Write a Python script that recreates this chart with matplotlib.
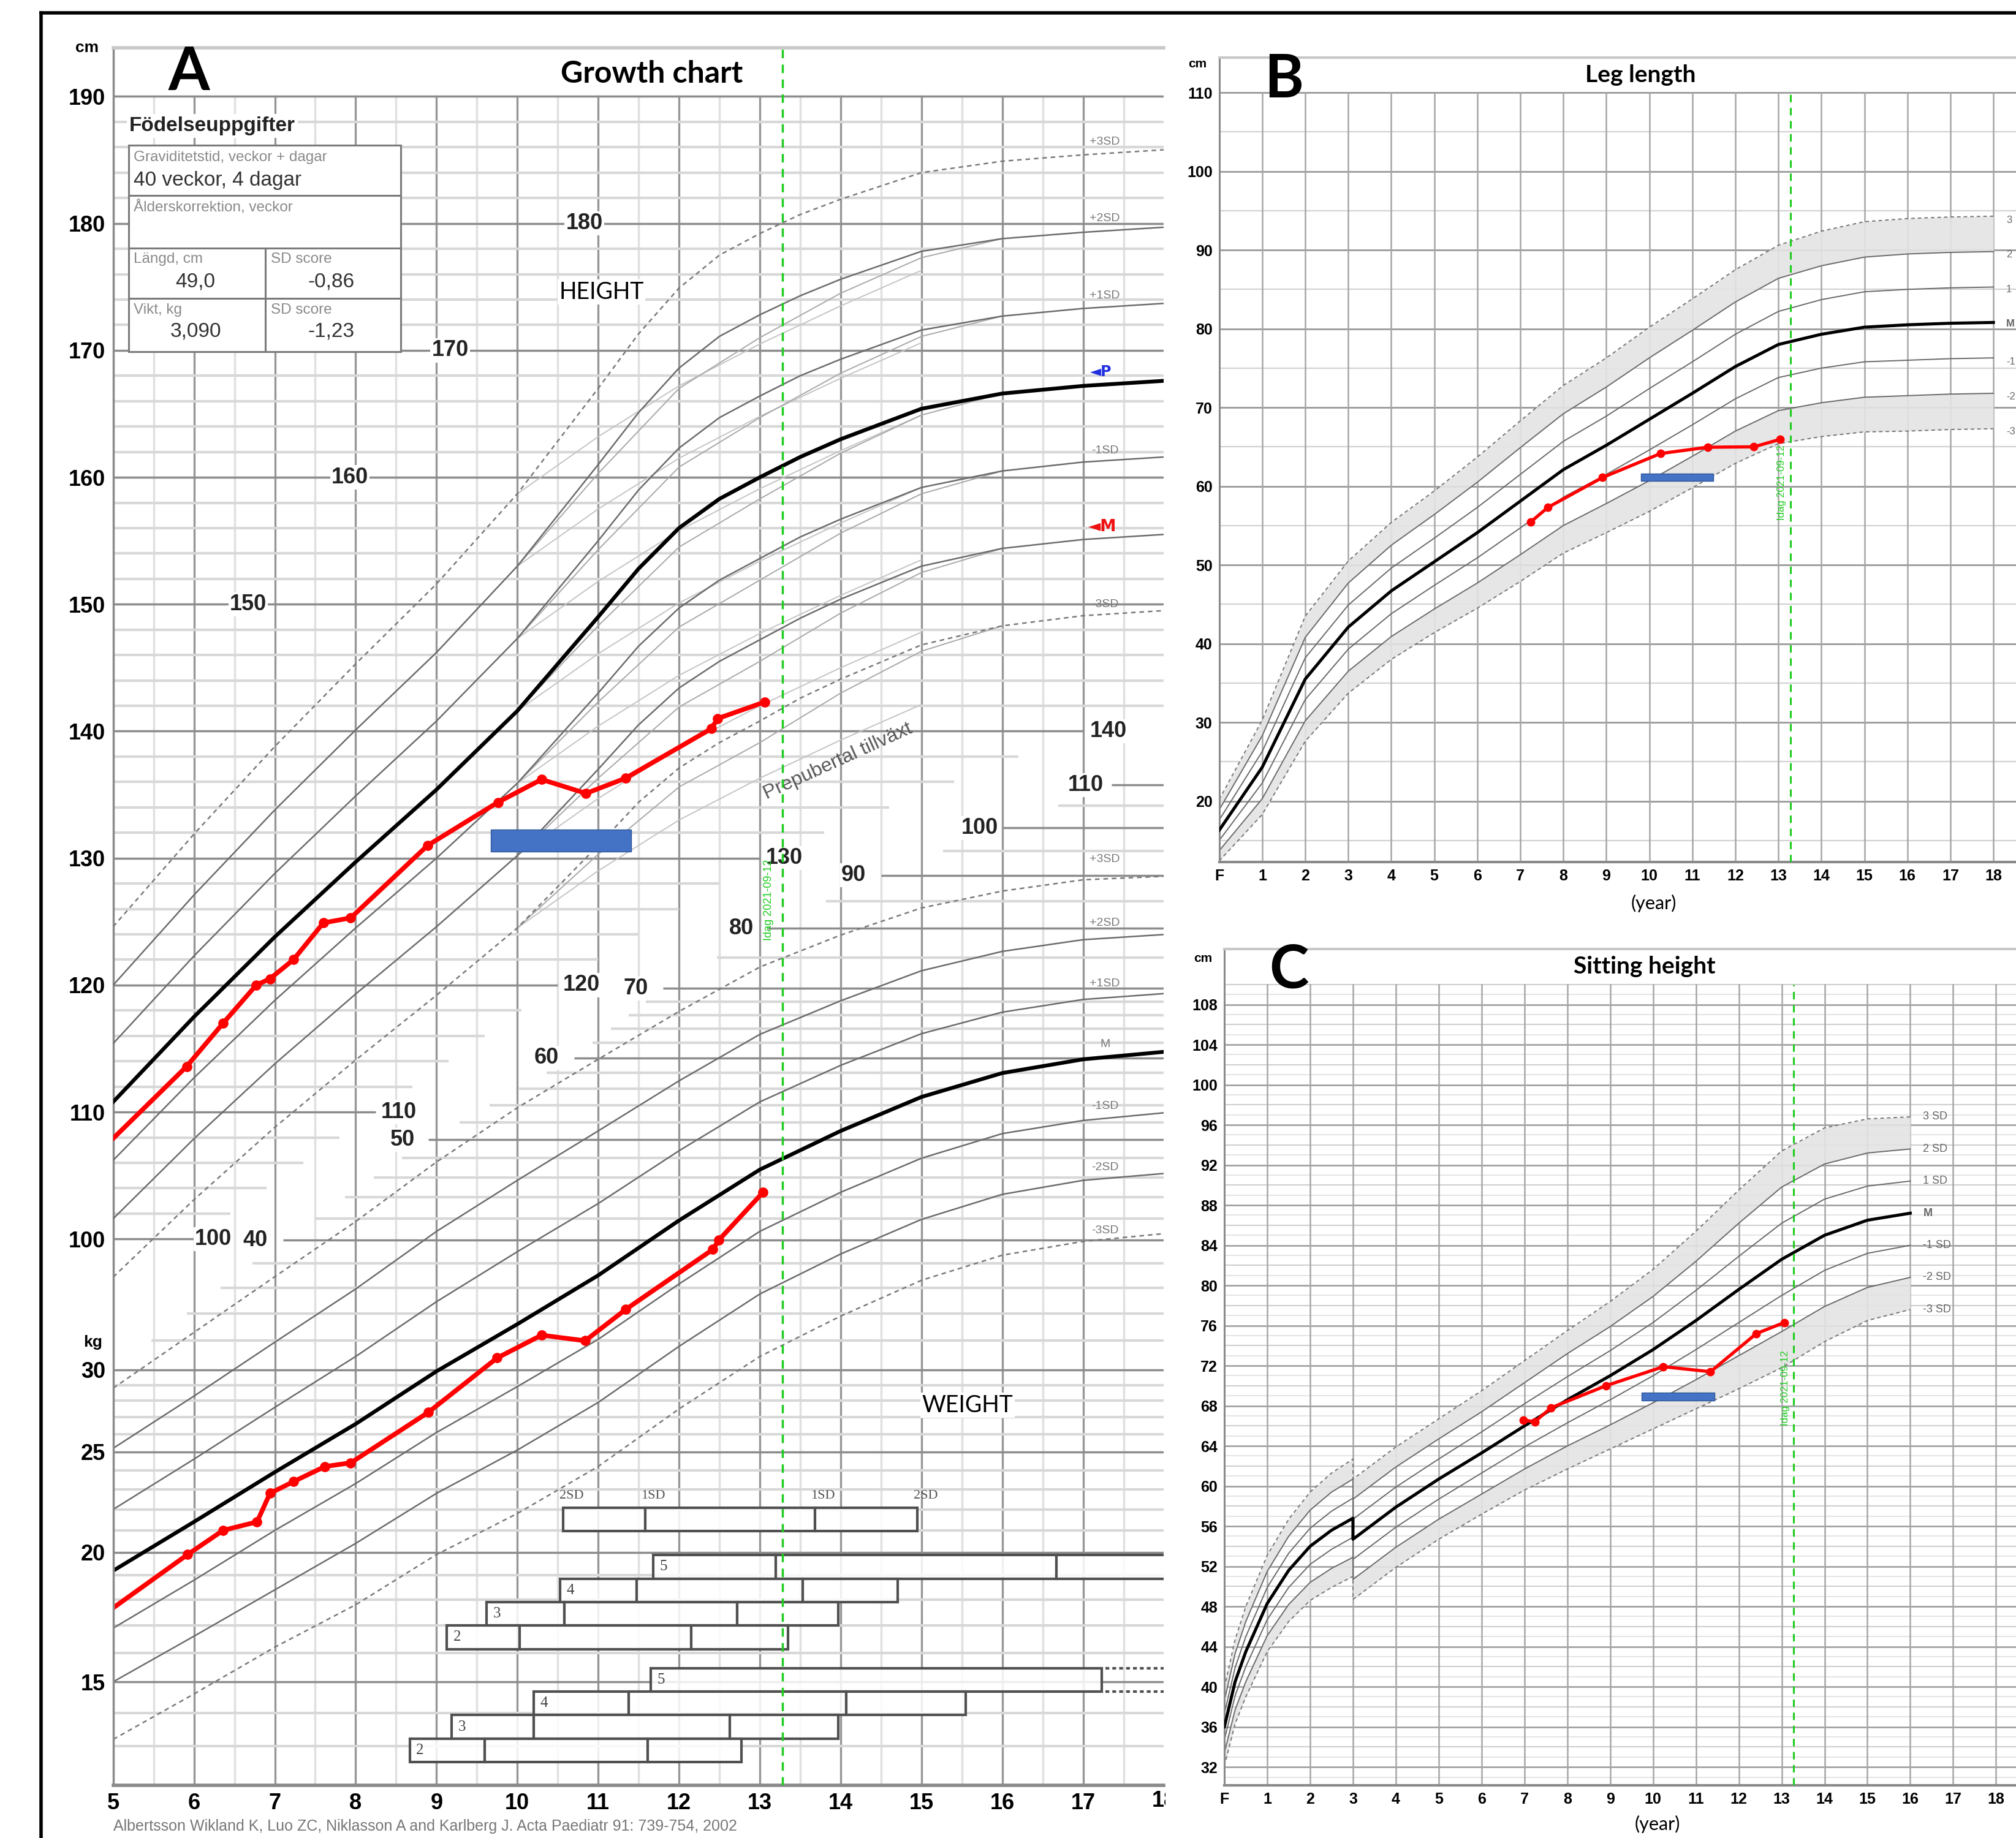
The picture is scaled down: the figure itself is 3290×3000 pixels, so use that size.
import numpy as np
import matplotlib.pyplot as plt
from matplotlib.patches import Rectangle
from matplotlib.lines import Line2D
from matplotlib.ticker import NullLocator
from matplotlib.transforms import Bbox, TransformedBbox

plt.rcParams['font.family'] = ['Liberation Sans', 'DejaVu Sans']

# ---------------- panel A : height reference (cm), girls 5-18 y ----------------
h_age = [5, 6, 7, 8, 9, 10, 11, 11.5, 12, 12.5, 13, 13.5, 14, 15, 16, 17, 18]
h_p3 = [124.6, 131.9, 138.8, 145.3, 151.6, 158.7, 167.0, 171.3, 174.9, 177.5, 179.2, 180.7, 181.9, 184.0, 184.9, 185.4, 185.8]
h_p2 = [120.0, 127.1, 133.8, 140.1, 146.2, 153.0, 161.0, 165.1, 168.6, 171.1, 172.8, 174.3, 175.6, 177.8, 178.8, 179.3, 179.7]
h_p1 = [115.4, 122.3, 128.8, 134.9, 140.8, 147.3, 155.0, 159.0, 162.3, 164.7, 166.4, 168.0, 169.3, 171.6, 172.7, 173.3, 173.7]
h_m = [110.8, 117.5, 123.8, 129.7, 135.4, 141.6, 149.0, 152.8, 156.0, 158.3, 160.0, 161.6, 163.0, 165.4, 166.6, 167.2, 167.6]
h_n1 = [106.2, 112.7, 118.8, 124.5, 130.0, 135.9, 143.0, 146.7, 149.7, 151.9, 153.6, 155.3, 156.7, 159.2, 160.5, 161.2, 161.6]
h_n2 = [101.6, 107.9, 113.8, 119.3, 124.6, 130.2, 137.0, 140.5, 143.4, 145.5, 147.2, 148.9, 150.4, 153.0, 154.4, 155.1, 155.5]
h_n3 = [97.0, 103.1, 108.8, 114.1, 119.2, 124.5, 131.0, 134.4, 137.1, 139.1, 140.8, 142.6, 144.1, 146.8, 148.3, 149.1, 149.5]

# late-maturing companions of the pubertal curves
late_age = [10, 11, 12, 13, 14, 15, 16]
late_p2 = [153.0, 160.3, 167.0, 171.0, 174.5, 177.3, 178.8]
late_p1 = [147.3, 154.3, 160.8, 164.7, 168.2, 171.1, 172.7]
late_m = [141.6, 148.3, 154.5, 158.3, 161.9, 164.9, 166.6]
late_n1 = [135.9, 142.3, 148.2, 151.9, 155.6, 158.7, 160.5]
late_n2 = [130.2, 136.3, 141.9, 145.5, 149.3, 152.5, 154.4]
late_n3 = [124.5, 130.3, 135.6, 139.1, 143.0, 146.3, 148.3]

# prepubertal growth lines
pre_age = [10, 11, 12, 13, 14, 15]
pre_p3 = [158.7, 163.2, 167.2, 170.5, 173.5, 176.3]
pre_p2 = [153.0, 157.5, 161.5, 164.8, 167.8, 170.6]
pre_p1 = [147.3, 151.8, 155.8, 159.1, 162.1, 164.9]
pre_m = [141.6, 146.1, 150.1, 153.4, 156.4, 159.2]
pre_n1 = [135.9, 140.4, 144.4, 147.7, 150.7, 153.5]
pre_n2 = [130.2, 134.7, 138.7, 142.0, 145.0, 147.8]
pre_n3 = [124.5, 129.0, 133.0, 136.3, 139.3, 142.1]

# weight reference (kg)
w_age = [5, 6, 7, 8, 9, 10, 11, 12, 13, 14, 15, 16, 17, 18]
w_p3 = [28.8, 32.6, 36.9, 41.7, 47.6, 53.7, 59.8, 66.5, 73.4, 78.8, 83.7, 86.9, 89.1, 89.8]
w_p2 = [25.2, 28.3, 31.9, 35.9, 40.8, 45.7, 51.0, 57.0, 63.2, 68.1, 72.8, 76.0, 78.0, 78.9]
w_p1 = [22.0, 24.6, 27.6, 30.9, 34.9, 39.0, 43.4, 48.8, 54.4, 59.0, 63.3, 66.4, 68.3, 69.2]
w_m = [19.2, 21.4, 23.9, 26.6, 29.9, 33.2, 37.0, 41.8, 46.8, 51.0, 55.0, 58.0, 59.8, 60.8]
w_n1 = [16.9, 18.8, 21.0, 23.3, 26.1, 28.9, 32.1, 36.3, 40.8, 44.5, 48.0, 50.7, 52.2, 53.1]
w_n2 = [15.0, 16.6, 18.4, 20.4, 22.8, 25.1, 27.9, 31.6, 35.5, 38.8, 41.9, 44.3, 45.7, 46.4]
w_n3 = [13.2, 14.6, 16.2, 17.8, 19.9, 21.8, 24.2, 27.5, 30.9, 33.8, 36.6, 38.7, 39.9, 40.6]

# patient
pat_h_age = [4.9, 5.91, 6.36, 6.77, 6.94, 7.23, 7.6, 7.94, 8.89, 9.76, 10.3, 10.85, 11.34, 12.4, 12.48, 13.06]
pat_h = [107.3, 113.6, 117.0, 120.0, 120.5, 122.0, 124.9, 125.3, 131.0, 134.4, 136.2, 135.1, 136.3, 140.2, 141.0, 142.3]
pat_w_age = [4.9, 5.92, 6.36, 6.78, 6.94, 7.23, 7.62, 7.94, 8.9, 9.75, 10.3, 10.84, 11.34, 12.42, 12.49, 13.04]
pat_w = [17.45, 19.9, 21.0, 21.4, 22.8, 23.4, 24.2, 24.4, 27.3, 30.8, 32.4, 32.0, 34.3, 39.2, 40.0, 44.5]
today_age = 13.28
bone_age_A = [9.67, 11.41, 130.5, 132.25]   # age from, age to, cm low, cm high

# puberty stage bars (ages of -2SD, -1SD, +1SD, +2SD)
pub_ref = [10.57, 11.58, 13.68, 14.95]
breast_5 = [11.68, 13.20, 16.67]
breast_4 = [10.53, 11.48, 13.53, 14.71]
breast_3 = [9.62, 10.58, 12.72, 13.97]
breast_2 = [9.13, 10.03, 12.15, 13.35]
pubic_5 = [11.65, 17.23]
pubic_4 = [10.20, 11.38, 14.07, 15.55]
pubic_3 = [9.19, 10.20, 12.63, 13.97]
pubic_2 = [8.67, 9.60, 11.61, 12.77]

# ---------------- panel B : leg length ----------------
b_age = list(range(0, 19))
leg_p3 = [20.2, 30.3, 43.5, 50.5, 55.4, 59.4, 63.7, 68.3, 72.8, 76.3, 80.2, 83.8, 87.5, 90.6, 92.4, 93.6, 94.0, 94.2, 94.3]
leg_p2 = [18.9, 28.3, 40.8, 47.7, 52.5, 56.4, 60.5, 64.9, 69.2, 72.6, 76.3, 79.8, 83.4, 86.4, 88.0, 89.1, 89.5, 89.7, 89.8]
leg_p1 = [17.6, 26.3, 38.2, 44.9, 49.6, 53.4, 57.3, 61.5, 65.7, 68.9, 72.4, 75.8, 79.3, 82.2, 83.7, 84.7, 85.0, 85.2, 85.3]
leg_m = [16.3, 24.3, 35.5, 42.1, 46.7, 50.4, 54.1, 58.1, 62.1, 65.2, 68.5, 71.8, 75.2, 78.0, 79.3, 80.2, 80.5, 80.7, 80.8]
leg_n1 = [15.0, 22.3, 32.9, 39.3, 43.8, 47.4, 50.9, 54.7, 58.6, 61.5, 64.6, 67.8, 71.1, 73.8, 75.0, 75.8, 76.0, 76.2, 76.3]
leg_n2 = [13.7, 20.3, 30.2, 36.5, 40.9, 44.4, 47.7, 51.3, 55.0, 57.8, 60.7, 63.8, 67.0, 69.6, 70.6, 71.3, 71.5, 71.7, 71.8]
leg_n3 = [12.4, 18.3, 27.6, 33.7, 38.0, 41.4, 44.5, 47.9, 51.5, 54.1, 56.8, 59.8, 62.9, 65.4, 66.3, 66.9, 67.0, 67.2, 67.3]
pat_leg_age = [7.24, 7.64, 8.91, 10.26, 11.36, 12.43, 13.04]
pat_leg = [55.45, 57.3, 61.1, 64.15, 64.95, 65.0, 65.95]
bone_age_B = [9.8, 11.48, 60.7, 61.6]

# ---------------- panel C : sitting height ----------------
c_age = [0, 0.25, 0.5, 1, 1.5, 2, 2.5, 3, 3, 4, 5, 6, 7, 8, 9, 10, 11, 12, 13, 14, 15, 16]
sit_p3 = [39.9, 44.7, 48.0, 53.1, 56.7, 59.4, 61.3, 62.7, 60.7, 63.9, 66.7, 69.5, 72.5, 75.5, 78.4, 81.6, 85.4, 89.5, 93.4, 95.7, 96.6, 96.8]
sit_p2 = [38.6, 43.3, 46.5, 51.5, 55.0, 57.6, 59.4, 60.7, 58.7, 61.9, 64.7, 67.4, 70.3, 73.2, 75.9, 78.9, 82.4, 86.2, 89.8, 92.1, 93.2, 93.6]
sit_p1 = [37.3, 41.9, 45.0, 49.9, 53.3, 55.8, 57.5, 58.8, 56.7, 59.9, 62.7, 65.4, 68.2, 70.9, 73.5, 76.3, 79.5, 82.9, 86.2, 88.6, 89.9, 90.4]
sit_m = [36.0, 40.5, 43.5, 48.3, 51.6, 54.0, 55.6, 56.8, 54.7, 57.9, 60.7, 63.3, 66.0, 68.6, 71.0, 73.6, 76.5, 79.6, 82.6, 85.0, 86.5, 87.2]
sit_n1 = [34.7, 39.1, 42.0, 46.7, 49.9, 52.2, 53.7, 54.9, 52.7, 55.9, 58.7, 61.3, 63.9, 66.3, 68.6, 71.0, 73.6, 76.3, 79.0, 81.5, 83.2, 84.0]
sit_n2 = [33.4, 37.7, 40.5, 45.1, 48.2, 50.4, 51.8, 52.9, 50.7, 53.9, 56.7, 59.2, 61.7, 64.0, 66.1, 68.3, 70.6, 73.0, 75.4, 77.9, 79.8, 80.8]
sit_n3 = [32.1, 36.3, 39.0, 43.5, 46.5, 48.6, 49.9, 51.0, 48.7, 51.9, 54.7, 57.2, 59.6, 61.7, 63.7, 65.7, 67.7, 69.7, 71.8, 74.4, 76.5, 77.6]
pat_sit_age = [6.97, 7.24, 7.62, 8.9, 10.24, 11.34, 12.41, 13.06]
pat_sit = [66.6, 66.4, 67.8, 70.0, 71.9, 71.4, 75.2, 76.3]
bone_age_C = [9.74, 11.43, 68.5, 69.3]

# ---------------- styles ----------------
GMAJ = '#8c8c8c'
GMIN = '#d8d8d8'
CURVE = '#6c6c6c'
RED = '#ff0000'
GREEN = '#1fcc1f'
BLUE = '#4472c4'
TFONT = ['Lato', 'DejaVu Sans']
DASH = (0, (3, 2.5))

fig = plt.figure(figsize=(32.91, 30), dpi=100)
fig.patch.set_facecolor('white')

# ======================= panel A =======================
axA = fig.add_axes([0.05612, 0.02869, 0.52105, 0.94542])
axW = axA.twinx()
axA.set_zorder(axW.get_zorder() + 1)
axA.patch.set_visible(False)
axW.set_yscale('log')
axA.set_xlim(5, 18)
axA.set_ylim(56.97, 193.85)
axW.set_ylim(11.92, 566)

top_frac = (190 - 56.97) / (193.85 - 56.97)
for yr in np.arange(5.5, 18, 0.5):
    if yr % 1 == 0:
        axW.axvline(yr, 0, top_frac, color='#969696', lw=2.4, zorder=1)
    else:
        axW.axvline(yr, 0, top_frac, color='#e0e0e0', lw=2.5, zorder=0.5)

for h in range(100, 191, 2):
    x_end = np.interp(h, [100, 110, 120, 130, 140, 141], [6.0, 8.25, 10.5, 13.0, 17.0, 18.0])
    major = h % 10 == 0
    axA.hlines(h, 5, x_end, color=GMAJ if major else GMIN, lw=2.5 if major else 3, zorder=1)

w_lines = list(range(13, 30)) + list(range(30, 70, 2)) + list(range(70, 111, 5))
w_major = [15, 20, 25, 30, 40, 50, 60, 70, 80, 90, 100, 110]
for w in w_lines:
    x0 = np.interp(np.log(w), np.log([30, 40, 50, 60, 70, 80, 90, 100, 110]),
                   [5.0, 7.1, 8.9, 10.7, 11.8, 13.1, 14.5, 16.0, 17.35])
    major = w in w_major
    axW.hlines(w, x0, 18, color=GMAJ if major else GMIN, lw=2.5 if major else 3, zorder=1)

# height curves
for vals in (h_p2, h_p1, h_n1, h_n2):
    axA.plot(h_age, vals, color=CURVE, lw=1.8, zorder=3)
for vals in (h_p3, h_n3):
    axA.plot(h_age, vals, color='#7a7a7a', lw=1.8, ls=DASH, zorder=3)
for vals in (late_p2, late_p1, late_m, late_n1, late_n2, late_n3):
    axA.plot(late_age, vals, color='#a8a8a8', lw=1.4, zorder=2.5)
for vals in (pre_p3, pre_p2, pre_p1, pre_m, pre_n1, pre_n2, pre_n3):
    axA.plot(pre_age, vals, color='#c4c4c4', lw=1.4, zorder=2.4)
axA.plot(h_age, h_m, color='black', lw=4.5, zorder=4)

# weight curves
for vals in (w_p2, w_p1, w_n1, w_n2):
    axW.plot(w_age, vals, color=CURVE, lw=1.8, zorder=3)
for vals in (w_p3, w_n3):
    axW.plot(w_age, vals, color='#7a7a7a', lw=1.8, ls=DASH, zorder=3)
axW.plot(w_age, w_m, color='black', lw=4.5, zorder=4)
axW.plot(pat_w_age, pat_w, color=RED, lw=5.5, marker='o', ms=11, zorder=6)

# patient height, bone age, today
axA.plot(pat_h_age, pat_h, color=RED, lw=5.5, marker='o', ms=11, zorder=8)
axA.add_patch(Rectangle((bone_age_A[0], bone_age_A[2]), bone_age_A[1] - bone_age_A[0],
                        bone_age_A[3] - bone_age_A[2], fc=BLUE, ec='#2f5597', lw=1, zorder=7))
axA.axvline(today_age, color=GREEN, lw=2.5, ls=(0, (4, 3)), zorder=9)
axA.text(today_age - 0.17, 126.7, 'Idag 2021-09-12', rotation=90, color=GREEN, fontsize=13,
         ha='center', va='center', zorder=9)

# inner scale labels
lab_kw = dict(fontsize=26, fontweight='bold', ha='center', va='center', color='#222222',
              bbox=dict(fc='white', ec='none', pad=1.5), zorder=5)
for h, x in [(180, 10.83), (170, 9.17), (160, 7.93), (150, 6.67), (140, 17.31),
             (130, 13.3), (120, 10.79), (110, 8.53), (100, 6.24)]:
    axA.text(x, h, str(h), **lab_kw)
for w, x in [(40, 6.76), (50, 8.58), (60, 10.36), (70, 11.47), (80, 12.77),
             (90, 14.16), (100, 15.72), (110, 17.03)]:
    axW.text(x, w, str(w), **lab_kw)

sd_kw = dict(fontsize=14, color='#7a7a7a', ha='center', va='center', zorder=5)
for y, s in [(186.45, '+3SD'), (180.4, '+2SD'), (174.3, '+1SD'), (162.1, '-1SD'), (150.0, '-3SD')]:
    axA.text(17.27, y, s, **sd_kw)
axA.text(17.22, 168.3, '\u25c4P', fontsize=17, color='#2030e0', fontweight='bold', ha='center',
         va='center', family=['DejaVu Sans'], zorder=6)
axA.text(17.24, 156.1, '\u25c4M', fontsize=19, color='#ee1111', fontweight='bold', ha='center',
         va='center', family=['DejaVu Sans'], zorder=6)
for w, s in [(93.2, '+3SD'), (81.0, '+2SD'), (70.7, '+1SD'), (61.8, 'M'), (53.9, '-1SD'),
             (47.0, '-2SD'), (40.9, '-3SD')]:
    axW.text(17.27, w, s, **sd_kw)

axA.text(13.97, 137.6, 'Prepubertal tillväxt', rotation=24.5, fontsize=23, color='#555555',
         ha='center', va='center', zorder=5)
axA.text(11.04, 174.6, 'HEIGHT', fontsize=27, family=TFONT, ha='center', va='center',
         bbox=dict(fc='white', ec='none', pad=2), zorder=5)
axA.text(15.57, 86.9, 'WEIGHT', fontsize=27, family=TFONT, ha='center', va='center',
         bbox=dict(fc='white', ec='none', pad=2), zorder=5)
axA.text(11.66, 191.8, 'Growth chart', fontsize=36, fontweight='bold', family=TFONT,
         ha='center', va='center', zorder=5)
axA.text(5.94, 191.9, 'A', fontsize=70, fontweight='bold', family=TFONT,
         ha='center', va='center', zorder=5)

# birth data box
axA.text(5.2, 187.7, 'Födelseuppgifter', fontsize=24, fontweight='bold', color='#222222',
         ha='left', va='center', bbox=dict(fc='white', ec='none', pad=3), zorder=10)
axA.add_patch(Rectangle((5.19, 169.9), 3.37, 16.25, fc='white', ec='#7a7a7a', lw=2.2, zorder=10))
for yy in (182.2, 178.04, 174.1):
    axA.hlines(yy, 5.19, 8.56, color='#7a7a7a', lw=2.2, zorder=10.5)
axA.vlines(6.88, 169.9, 178.04, color='#7a7a7a', lw=2.2, zorder=10.5)
small = dict(fontsize=17.5, color='#8a8a8a', ha='left', va='center', zorder=11)
big = dict(fontsize=24, color='#333333', va='center', zorder=11)
axA.text(5.25, 185.2, 'Graviditetstid, veckor + dagar', **small)
axA.text(5.25, 183.4, '40 veckor, 4 dagar', ha='left', **big)
axA.text(5.25, 181.3, 'Ålderskorrektion, veckor', **small)
axA.text(5.25, 177.2, 'Längd, cm', **small)
axA.text(6.95, 177.2, 'SD score', **small)
axA.text(5.25, 173.2, 'Vikt, kg', **small)
axA.text(6.95, 173.2, 'SD score', **small)
axA.text(6.02, 175.4, '49,0', ha='center', **big)
axA.text(7.7, 175.4, '-0,86', ha='center', **big)
axA.text(6.02, 171.5, '3,090', ha='center', **big)
axA.text(7.7, 171.5, '-1,23', ha='center', **big)

# puberty bars
BAR_H = 1.85
def pub_bar(edges, top, label, open_right=False, dotted=False):
    e = list(edges) + ([18.6] if open_right else [])
    for a, b in zip(e[:-1], e[1:]):
        axA.add_patch(Rectangle((a, top - BAR_H), b - a, BAR_H, fc=(1, 1, 1, 0.85),
                                ec='#505050', lw=3, zorder=5))
    if dotted:
        axA.hlines([top, top - BAR_H], e[-1] + 0.05, 18, colors='#505050', lw=3,
                   linestyles=[(0, (1.5, 1.2))], zorder=5)
    if label:
        axA.text(e[0] + 0.08, top - BAR_H / 2, label, fontsize=18, family=['Liberation Serif'],
                 color='#444444', ha='left', va='center', zorder=6)

pub_bar(pub_ref, 78.85, '')
for x, s in zip(pub_ref, ['2SD', '1SD', '1SD', '2SD']):
    axA.text(x + 0.1, 79.75, s, fontsize=16, family=['Liberation Serif'], color='#555555',
             ha='center', va='center', zorder=6)
for i, (edges, lab) in enumerate([(breast_5, '5'), (breast_4, '4'), (breast_3, '3'), (breast_2, '2')]):
    pub_bar(edges, 75.1 - i * BAR_H, lab, open_right=(i == 0))
for i, (edges, lab) in enumerate([(pubic_5, '5'), (pubic_4, '4'), (pubic_3, '3'), (pubic_2, '2')]):
    pub_bar(edges, 66.2 - i * BAR_H, lab, dotted=(i == 0))

# axes decoration A
for sp in axW.spines.values():
    sp.set_visible(False)
axA.spines['right'].set_visible(False)
axA.spines['top'].set_color('#c8c8c8')
axA.spines['top'].set_linewidth(4)
axA.spines['left'].set_color('#8a8a8a')
axA.spines['left'].set_linewidth(2.5)
axA.spines['bottom'].set_color('#8a8a8a')
axA.spines['bottom'].set_linewidth(4)
axA.set_yticks(range(100, 191, 10))
axA.set_yticklabels([str(v) for v in range(100, 191, 10)], fontweight='bold')
axA.set_xticks(range(5, 18))
axA.set_xticklabels([str(v) for v in range(5, 18)], fontweight='bold')
axA.tick_params(axis='both', length=0, labelsize=26, pad=9)
axW.set_yticks([15, 20, 25, 30])
axW.set_yticklabels(['15', '20', '25', '30'], fontweight='bold')
axW.yaxis.set_minor_locator(NullLocator())
axW.tick_params(axis='y', which='both', length=0, left=False, right=False,
                labelleft=True, labelright=False, labelsize=26, pad=9)
axA.text(4.68, 193.85, 'cm', fontsize=19, fontweight='bold', ha='center', va='center', clip_on=False)
axW.text(4.75, 31.9, 'kg', fontsize=19, fontweight='bold', ha='center', va='center', clip_on=False)
t18 = fig.text(0.57717, 1 - 1400 / 1429, '18', fontsize=26, fontweight='bold', ha='center',
               va='center', clip_on=True)
t18.set_clip_box(TransformedBbox(Bbox.from_extents(0, 0, 906 / 1568, 1), fig.transFigure))

fig.text(88 / 1568, 0.0062, 'Albertsson Wikland K, Luo ZC, Niklasson A and Karlberg J. '
         'Acta Paediatr 91: 739-754, 2002', fontsize=18, color='#777777', ha='left', va='center')


# ======================= panels B and C =======================
def side_panel(rect, ylim, hlines_spec, ytick_vals, ages, curves, pat_age, pat, bone, title,
               letter, title_y, letter_y, cm_y, year_y, sd_labels, sd_x, sd_font, idag_y, tick_pad):
    ax = fig.add_axes(rect)
    ax.set_xlim(0, 19)
    ax.set_ylim(*ylim)
    top_f = (110 - ylim[0]) / (ylim[1] - ylim[0])
    for yv, col, lw in hlines_spec:
        ax.axhline(yv, color=col, lw=lw, zorder=0.5)
    for yr in range(1, 19):
        ax.axvline(yr, 0, top_f, color='#a6a6a6', lw=1.8, zorder=0.6)
    p3, p2, p1, m, n1, n2, n3 = curves
    ax.fill_between(ages, p2, p3, color='#e4e4e4', alpha=0.9, lw=0, zorder=1)
    ax.fill_between(ages, n3, n2, color='#e4e4e4', alpha=0.9, lw=0, zorder=1)
    for vals in (p2, p1, n1, n2):
        ax.plot(ages, vals, color='#6a6a6a', lw=1.4, zorder=2)
    for vals in (p3, n3):
        ax.plot(ages, vals, color='#777777', lw=1.4, ls=DASH, zorder=2)
    ax.plot(ages, m, color='black', lw=3.6, zorder=3)
    ax.add_patch(Rectangle((bone[0], bone[2]), bone[1] - bone[0], bone[3] - bone[2],
                           fc=BLUE, ec='#2f5597', lw=1, zorder=4))
    ax.plot(pat_age, pat, color=RED, lw=3.8, marker='o', ms=9, zorder=6)
    ax.axvline(today_age, 0, top_f, color=GREEN, lw=2.2, ls=(0, (4, 3)), zorder=5)
    ax.text(today_age - 0.2, idag_y, 'Idag 2021-09-12', rotation=90, color=GREEN, fontsize=12,
            ha='center', va='center', zorder=5)
    for y, s in sd_labels:
        ax.text(sd_x, y, s, fontsize=sd_font, color='#666666', ha='left', va='center',
                fontweight='bold' if s == 'M' else 'normal', zorder=5)
    ax.text(9.8, title_y, title, fontsize=28, fontweight='bold', family=TFONT,
            ha='center', va='center', zorder=5)
    ax.text(1.5, letter_y, letter, fontsize=70, fontweight='bold', family=TFONT,
            ha='center', va='center', zorder=5)
    ax.text(-0.5, cm_y, 'cm', fontsize=15, fontweight='bold', ha='center', va='center', clip_on=False)
    ax.text(10.1, year_y, '(year)', fontsize=22, family=TFONT, ha='center', va='center', clip_on=False)
    ax.spines['right'].set_visible(False)
    ax.spines['top'].set_color('#c8c8c8')
    ax.spines['top'].set_linewidth(3)
    ax.spines['left'].set_color('#8a8a8a')
    ax.spines['left'].set_linewidth(2.2)
    ax.spines['bottom'].set_color('#8a8a8a')
    ax.spines['bottom'].set_linewidth(3)
    ax.set_xticks(range(0, 19))
    ax.set_xticklabels(['F'] + [str(v) for v in range(1, 19)], fontweight='bold')
    ax.set_yticks(ytick_vals)
    ax.set_yticklabels([str(v) for v in ytick_vals], fontweight='bold')
    ax.tick_params(axis='both', length=0, labelsize=18, pad=tick_pad)
    return ax


hB = [(v, '#9a9a9a' if v % 10 == 0 else '#d2d2d2', 2.0 if v % 10 == 0 else 1.6)
      for v in range(15, 111, 5)]
side_panel([0.6046, 0.53114, 0.40522, 0.43737], (12.29, 114.41), hB, list(range(20, 111, 10)),
           b_age, (leg_p3, leg_p2, leg_p1, leg_m, leg_n1, leg_n2, leg_n3),
           pat_leg_age, pat_leg, bone_age_B, 'Leg length', 'B', 112.2, 111.6, 113.6, 7.0,
           [(93.8, '3'), (89.4, '2'), (85.0, '1'), (80.6, 'M'), (75.8, '-1'), (71.4, '-2'), (66.9, '-3')],
           18.3, 12, 60.5, 8)

hC = []
for v in range(31, 111):
    if v % 4 == 0:
        hC.append((v, '#9a9a9a', 1.8))
    elif v % 2 == 0:
        hC.append((v, '#cfcfcf', 1.5))
    else:
        hC.append((v, '#e2e2e2', 1.3))
side_panel([0.60714, 0.02869, 0.40389, 0.45487], (30.18, 113.51), hC, list(range(32, 109, 4)),
           c_age, (sit_p3, sit_p2, sit_p1, sit_m, sit_n1, sit_n2, sit_n3),
           pat_sit_age, pat_sit, bone_age_C, 'Sitting height', 'C', 111.8, 111.4, 112.6, 26.3,
           [(96.85, '3 SD'), (93.6, '2 SD'), (90.4, '1 SD'), (87.2, 'M'), (84.0, '-1 SD'),
            (80.8, '-2 SD'), (77.6, '-3 SD')],
           16.3, 13, 69.8, 8)

# outer frame
fig.add_artist(Line2D([32 / 1568, 32 / 1568], [0, 1 - 10 / 1429], transform=fig.transFigure,
                      color='black', lw=4))
fig.add_artist(Line2D([32 / 1568, 1], [1 - 10 / 1429, 1 - 10 / 1429], transform=fig.transFigure,
                      color='black', lw=4))

fig.savefig('out.png', dpi=100, facecolor='white')
